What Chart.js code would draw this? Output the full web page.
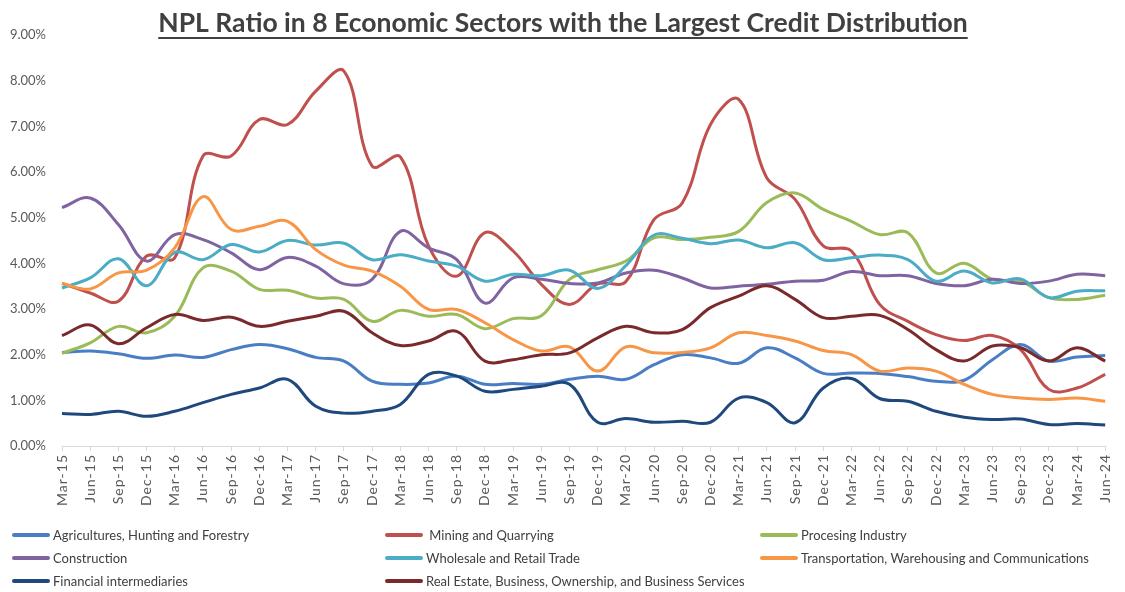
<!DOCTYPE html>
<html>
<head>
<meta charset="utf-8">
<script src="https://cdn.jsdelivr.net/npm/chart.js@4.4.1/dist/chart.umd.min.js"></script>
<style>
  html, body { margin: 0; padding: 0; background: #ffffff; }
  #wrap { position: relative; width: 1125px; height: 592px; overflow: hidden; }
  #npl { position: absolute; left: 0; top: 0; }
  #legend { position: absolute; left: 0; top: 0; width: 1125px; height: 592px; pointer-events: none;
            font-family: Lato, "Liberation Sans", sans-serif; font-size: 13px; color: #404040; }
  .item { position: absolute; display: flex; align-items: center; height: 20px; white-space: nowrap; }
  .swatch { display: inline-block; width: 38px; height: 4px; border-radius: 2px; margin-right: 3px; }
</style>
</head>
<body>
<div id="wrap">
  <canvas id="npl" width="1125" height="592"></canvas>
  <div id="legend"></div>
</div>
<script>
// Quarter-end labels, Mar-2015 .. Jun-2024
const quarters = [
  'Mar-15','Jun-15','Sep-15','Dec-15','Mar-16','Jun-16','Sep-16','Dec-16',
  'Mar-17','Jun-17','Sep-17','Dec-17','Mar-18','Jun-18','Sep-18','Dec-18',
  'Mar-19','Jun-19','Sep-19','Dec-19','Mar-20','Jun-20','Sep-20','Dec-20',
  'Mar-21','Jun-21','Sep-21','Dec-21','Mar-22','Jun-22','Sep-22','Dec-22',
  'Mar-23','Jun-23','Sep-23','Dec-23','Mar-24','Jun-24'
];

// NPL ratio per sector, in percent
const agriculture = [2.05,2.08,2.02,1.92,1.99,1.94,2.11,2.22,2.13,1.94,1.86,1.42,1.35,1.38,1.53,1.35,1.37,1.35,1.46,1.53,
  1.46,1.78,2.00,1.93,1.81,2.15,1.93,1.59,1.60,1.59,1.52,1.42,1.44,1.89,2.22,1.86,1.95,1.98];
const mining = [3.56,3.35,3.17,4.16,4.12,6.35,6.35,7.15,7.04,7.77,8.21,6.13,6.33,4.38,3.72,4.67,4.27,3.54,3.10,3.55,
  3.60,4.96,5.32,7.04,7.59,5.87,5.40,4.38,4.27,3.10,2.73,2.44,2.31,2.42,2.11,1.24,1.27,1.57];
const processing = [2.03,2.26,2.62,2.48,2.84,3.90,3.83,3.43,3.41,3.24,3.21,2.73,2.97,2.84,2.88,2.57,2.79,2.85,3.65,3.86,
  4.05,4.56,4.52,4.57,4.70,5.33,5.54,5.18,4.92,4.63,4.67,3.79,4.00,3.65,3.61,3.25,3.21,3.30];
const construction = [5.22,5.43,4.85,4.05,4.63,4.52,4.23,3.86,4.13,3.94,3.55,3.65,4.70,4.34,4.08,3.13,3.68,3.65,3.56,3.57,
  3.79,3.85,3.68,3.46,3.50,3.54,3.61,3.63,3.82,3.73,3.73,3.56,3.51,3.65,3.56,3.61,3.76,3.73];
const wholesale = [3.46,3.68,4.10,3.51,4.24,4.08,4.41,4.25,4.50,4.40,4.44,4.08,4.19,4.05,3.94,3.61,3.76,3.73,3.85,3.45,
  3.95,4.62,4.55,4.43,4.51,4.34,4.45,4.08,4.12,4.18,4.08,3.61,3.83,3.57,3.66,3.25,3.39,3.40];
const transport = [3.56,3.44,3.79,3.85,4.34,5.46,4.74,4.81,4.92,4.30,3.96,3.83,3.50,2.99,2.99,2.70,2.33,2.08,2.17,1.64,
  2.17,2.04,2.05,2.15,2.48,2.42,2.30,2.09,2.00,1.64,1.71,1.64,1.35,1.13,1.05,1.02,1.05,0.98];
const financial = [0.71,0.69,0.76,0.65,0.76,0.95,1.13,1.27,1.46,0.87,0.72,0.76,0.91,1.57,1.53,1.20,1.24,1.31,1.35,0.52,
  0.60,0.52,0.54,0.52,1.05,0.95,0.51,1.27,1.48,1.04,0.98,0.76,0.63,0.58,0.59,0.47,0.49,0.46];
const realEstate = [2.42,2.65,2.24,2.59,2.88,2.75,2.82,2.62,2.73,2.84,2.95,2.48,2.20,2.30,2.51,1.86,1.89,2.00,2.04,2.37,
  2.62,2.48,2.55,3.03,3.28,3.51,3.21,2.81,2.84,2.86,2.55,2.11,1.86,2.19,2.15,1.86,2.15,1.86];

const sectorNames = [
  'Agricultures, Hunting and Forestry',
  ' Mining and Quarrying',
  'Procesing Industry',
  'Construction',
  'Wholesale and Retail Trade',
  'Transportation, Warehousing and Communications',
  'Financial intermediaries',
  'Real Estate, Business, Ownership, and Business Services'
];
const sectorSeries = [agriculture, mining, processing, construction, wholesale, transport, financial, realEstate];
const sectorColors = ['#4A7EC4','#C0504D','#9BBB59','#8064A2','#4BACC6','#F79646','#1F497D','#7A2A2A'];

const chartTitle = 'NPL Ratio in 8 Economic Sectors with the Largest Credit Distribution';

// Underlined heading drawn on the canvas
const underlinedTitle = {
  id: 'underlinedTitle',
  afterDraw(chart) {
    const ctx = chart.ctx;
    ctx.save();
    ctx.font = 'bold 26.5px Lato, "Liberation Sans", sans-serif';
    ctx.fillStyle = '#404040';
    ctx.textAlign = 'center';
    ctx.textBaseline = 'alphabetic';
    const cx = 563, base = 32;
    ctx.fillText(chartTitle, cx, base);
    const w = ctx.measureText(chartTitle).width;
    ctx.strokeStyle = '#404040';
    ctx.lineWidth = 2;
    ctx.beginPath();
    ctx.moveTo(cx - w / 2, base + 6);
    ctx.lineTo(cx + w / 2, base + 6);
    ctx.stroke();
    ctx.restore();
  }
};

const datasets = sectorSeries.map((values, i) => ({
  label: sectorNames[i],
  data: values,
  borderColor: sectorColors[i],
  backgroundColor: sectorColors[i],
  borderWidth: 3,
  pointRadius: 0,
  pointHoverRadius: 0,
  tension: 0.38,
  fill: false,
  order: sectorSeries.length - i
}));

const chart = new Chart(document.getElementById('npl'), {
  type: 'line',
  data: { labels: quarters, datasets },
  options: {
    responsive: false,
    animation: false,
    devicePixelRatio: 1,
    layout: { padding: { left: 0, right: 14, top: 35, bottom: 0 } },
    plugins: {
      legend: { display: false },
      tooltip: { enabled: false },
      title: { display: false }
    },
    scales: {
      x: {
        offset: false,
        grid: { display: true, drawOnChartArea: false, drawTicks: true, tickLength: 5, color: '#D9D9D9' },
        border: { display: true, color: '#D9D9D9', width: 1 },
        ticks: {
          autoSkip: false, maxRotation: 90, minRotation: 90, padding: 3,
          color: '#595959', font: { family: 'Lato', size: 14 }
        },
        afterFit(scale) {
          scale.height = 146;
          // quarter labels are set slightly spaced out
          if (!scale._spacedLabels) {
            const drawLabels = scale.drawLabels;
            scale.drawLabels = function (area) {
              const c = this.ctx;
              const prev = c.letterSpacing;
              c.letterSpacing = '1px';
              drawLabels.call(this, area);
              c.letterSpacing = prev || '0px';
            };
            scale._spacedLabels = true;
          }
        }
      },
      y: {
        min: 0, max: 9,
        grid: { display: false, drawTicks: false },
        border: { display: false },
        ticks: {
          stepSize: 1, padding: 16, color: '#595959', font: { family: 'Lato', size: 13 },
          callback: (v) => v.toFixed(2) + '%'
        },
        afterFit(scale) { scale.width = 62; }
      }
    }
  },
  plugins: [underlinedTitle]
});

// Three-column legend under the plot
const legendCols = [12, 385, 760];
const legendRows = [525, 548, 571];
const legendBox = document.getElementById('legend');
chart.data.datasets.forEach((ds, i) => {
  const item = document.createElement('div');
  item.className = 'item';
  item.style.left = legendCols[i % 3] + 'px';
  item.style.top = legendRows[Math.floor(i / 3)] + 'px';
  const sw = document.createElement('span');
  sw.className = 'swatch';
  sw.style.background = ds.borderColor;
  const tx = document.createElement('span');
  tx.textContent = ds.label;
  tx.style.whiteSpace = 'pre';
  item.appendChild(sw);
  item.appendChild(tx);
  legendBox.appendChild(item);
});
</script>
</body>
</html>
